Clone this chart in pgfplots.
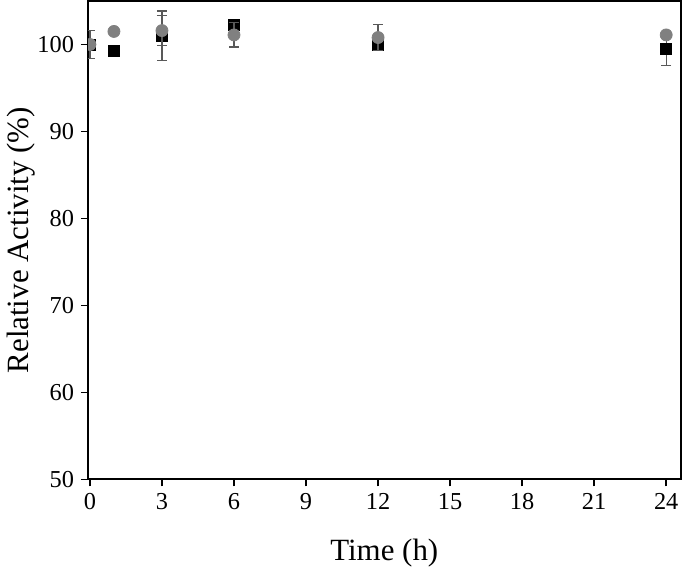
\documentclass[border=0pt]{standalone}
\usepackage{fontspec}
\setmainfont{Liberation Serif}
\usepackage{pgfplots}
\pgfplotsset{compat=1.18}
\begin{document}
\begin{tikzpicture}
\begin{axis}[
  scale only axis,
  width=296bp, height=239bp,
  xmin=-0.08, xmax=24.6, ymin=50, ymax=105,
  xtick={0,3,...,24}, ytick={50,60,...,100},
  xtick pos=bottom, ytick pos=left,
  tick align=outside,
  major tick length=3.5bp,
  axis line style={line width=1bp},
  every tick/.style={black, line width=0.8bp},
  /pgf/number format/assume math mode=true,
  tick label style={font=\fontsize{12.2}{14}\selectfont},
  label style={font=\fontsize{15.5}{18}\selectfont},
  xlabel={Time (h)},
  ylabel={Relative Activity (\%)},
  xlabel style={yshift=-7.5bp},
  ylabel style={yshift=-5.5bp},
  clip mode=individual,
  clip marker paths=true,
]
\addplot[only marks, mark=square*, mark size=2.75bp, black,
  error bars/.cd, y dir=both, y explicit,
  error bar style={black!65, line width=0.6bp},
  error mark options={rotate=90, mark size=2.5bp, black!65, line width=0.6bp}]
  coordinates {
  (0,100) +- (0,1.6)
  (1,99.3) +- (0,0.2)
  (3,101.0) +- (0,2.85)
  (6,102.3) +- (0,0.3)
  (12,100.0) +- (0,0.3)
  (24,99.5) +- (0,1.9)
  };
\addplot[only marks, mark=*, mark size=3bp, draw=gray, fill=gray,
  error bars/.cd, y dir=both, y explicit,
  error bar style={black!65, line width=0.6bp},
  error mark options={rotate=90, mark size=2.5bp, black!65, line width=0.6bp}]
  coordinates {
  (0,100) +- (0,1.6)
  (1,101.5) +- (0,0.2)
  (3,101.6) +- (0,1.7)
  (6,101.1) +- (0,1.4)
  (12,100.8) +- (0,1.5)
  (24,101.1) +- (0,0.2)
  };
\end{axis}
\end{tikzpicture}
\end{document}
